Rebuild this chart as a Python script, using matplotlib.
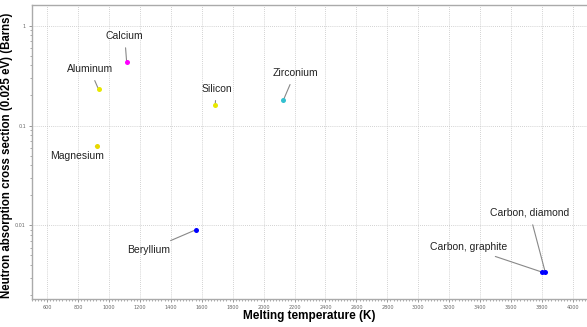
import matplotlib
matplotlib.use("Agg")
import matplotlib.pyplot as plt
from matplotlib.ticker import MultipleLocator, FixedLocator, FixedFormatter, LogLocator, NullFormatter

names = ["Calcium", "Aluminum", "Magnesium", "Silicon", "Zirconium",
         "Beryllium", "Carbon, graphite", "Carbon, diamond"]
melt_k = [1115, 933, 923, 1687, 2128, 1560, 3800, 3820]
sigma = [0.43, 0.231, 0.063, 0.16, 0.18, 0.0090, 0.0034, 0.0034]
colors = ["#ff00ff", "#e8e800", "#e8d800", "#e8e800", "#33c0d0",
          "#0000ff", "#0000ff", "#0000ff"]
# label positions (data coords)
label_x = [1102, 876, 792, 1695, 2203, 1257, 3322, 3719]
label_y = [0.79, 0.368, 0.0494, 0.234, 0.336, 0.00566, 0.00602, 0.0133]

fig = plt.figure(figsize=(5.87, 3.27), dpi=100)
ax = fig.add_axes([31.5 / 587, 28 / 327, 1 - 31.5 / 587, 1 - 33 / 327])

ax.set_yscale("log")
ax.set_xlim(500, 4090)
ax.set_ylim(0.00183, 1.61)

for n, x, y, c, lx, ly in zip(names, melt_k, sigma, colors, label_x, label_y):
    ax.annotate(n, xy=(x, y), xytext=(lx, ly), fontsize=7.5, color="#222222",
                ha="center", va="center", family="Liberation Sans",
                arrowprops=dict(arrowstyle="-", color="#888888", lw=0.8,
                                shrinkA=3, shrinkB=1))
    ax.scatter([x], [y], s=13, color=c, zorder=3, linewidths=0)

ax.set_xticks(range(600, 4001, 200))
ax.xaxis.set_minor_locator(MultipleLocator(20))
ax.yaxis.set_major_locator(FixedLocator([0.01, 0.1, 1]))
ax.yaxis.set_major_formatter(FixedFormatter(["0.01", "0.1", "1"]))
ax.yaxis.set_minor_locator(LogLocator(base=10, subs=range(2, 10)))
ax.yaxis.set_minor_formatter(NullFormatter())

ax.tick_params(which="major", length=2, width=0.6, colors="#888888",
               labelsize=3.5, labelcolor="#666666", pad=2)
ax.tick_params(which="minor", length=1.5, width=0.5, colors="#888888")

ax.grid(True, which="major", linestyle=(0, (1, 1.5)), color="#c4c4c4", lw=0.6)
for s in ax.spines.values():
    s.set_color("#aaaaaa")
    s.set_linewidth(1.0)
ax.spines["right"].set_visible(False)

ax.set_xlabel("Melting temperature (K)", fontsize=8.5, fontweight="bold",
              family="Liberation Sans", labelpad=0)
ax.set_ylabel("Neutron absorption cross section (0.025 eV) (Barns)",
              fontsize=8.3, fontweight="bold", family="Liberation Sans")
ax.yaxis.set_label_coords(-0.034, 0.49)

fig.savefig("out.png", dpi=100)
